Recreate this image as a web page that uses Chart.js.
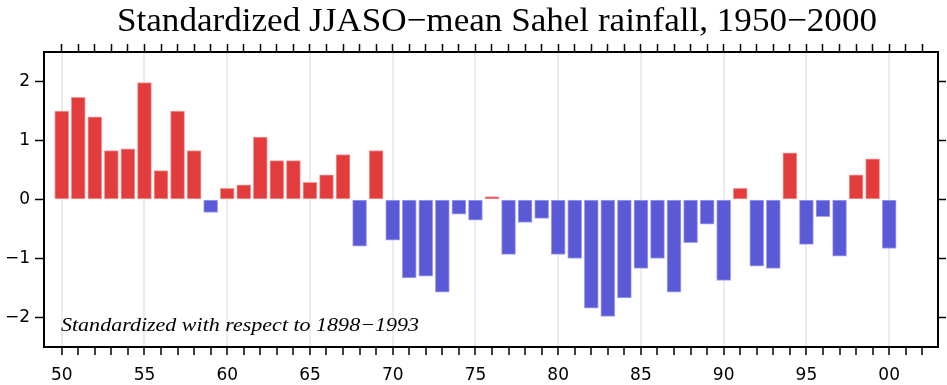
<!DOCTYPE html>
<html>
<head>
<meta charset="utf-8">
<script src="https://cdn.jsdelivr.net/npm/chart.js@4.4.1/dist/chart.umd.min.js"></script>
<style>
html,body{margin:0;padding:0;background:#fff;}
#wrap{width:947px;height:385px;position:relative;}
</style>
</head>
<body>
<div id="wrap"><canvas id="c" width="947" height="385"></canvas></div>
<script>
const titleText = "Standardized JJASO\u2212mean Sahel rainfall, 1950\u22122000";
const noteText = "Standardized with respect to 1898\u22121993";
const years = [1950,1951,1952,1953,1954,1955,1956,1957,1958,1959,
               1960,1961,1962,1963,1964,1965,1966,1967,1968,1969,
               1970,1971,1972,1973,1974,1975,1976,1977,1978,1979,
               1980,1981,1982,1983,1984,1985,1986,1987,1988,1989,
               1990,1991,1992,1993,1994,1995,1996,1997,1998,1999,2000];
const rainfall = [1.50,1.73,1.40,0.83,0.86,1.98,0.49,1.50,0.83,-0.22,
                  0.19,0.25,1.06,0.66,0.66,0.29,0.42,0.76,-0.79,0.83,
                  -0.69,-1.33,-1.30,-1.57,-0.25,-0.35,0.05,-0.93,-0.39,-0.32,
                  -0.93,-1.00,-1.84,-1.98,-1.67,-1.17,-1.00,-1.57,-0.73,-0.42,
                  -1.37,0.19,-1.13,-1.17,0.79,-0.76,-0.29,-0.96,0.42,0.69,-0.83];
const yTicks = [-2,-1,0,1,2];
const xLabelStep = 5;

const RED = '#e23c3c', RED_B = '#f59a9a';
const BLUE = '#5a5ad6', BLUE_B = '#a4a4f2';

// x in 2-digit year units (50 .. 100)
const points = years.map((y,i)=>({x: y-1900, y: rainfall[i]}));

const yearTicks = [];
for (let v = 50; v <= 102; v++) yearTicks.push({value: v});

function fitText(ctx, text, x, y, width){
  const w = ctx.measureText(text).width;
  ctx.save();
  ctx.translate(x, y);
  ctx.scale(width / w, 1);
  ctx.fillText(text, 0, 0);
  ctx.restore();
}

const textPlugin = {
  id: 'texts',
  afterDraw(chart){
    const ctx = chart.ctx;
    ctx.save();
    ctx.fillStyle = '#000';
    ctx.textBaseline = 'alphabetic';
    ctx.textAlign = 'left';
    ctx.font = '34px "Liberation Serif"';
    fitText(ctx, titleText, 117, 31, 760);
    ctx.font = 'italic 19px "Liberation Serif"';
    fitText(ctx, noteText, 61, 331, 358);
    ctx.restore();
  }
};

const fontTick = {family: '"DejaVu Sans"', size: 17};

new Chart(document.getElementById('c'), {
  type: 'bar',
  data: {
    datasets: [{
      data: points,
      backgroundColor: c => (c.raw && c.raw.y < 0) ? BLUE : RED,
      borderColor: c => (c.raw && c.raw.y < 0) ? BLUE_B : RED_B,
      borderWidth: 1,
      borderSkipped: false,
      barThickness: 14,
      xAxisID: 'x',
      yAxisID: 'y'
    }]
  },
  options: {
    responsive: false,
    animation: false,
    events: [],
    layout: {padding: 0},
    plugins: {legend: {display: false}, title: {display: false}, tooltip: {enabled: false}},
    scales: {
      x: {
        type: 'linear', position: 'bottom', min: 48.93, max: 102.95, offset: false,
        afterBuildTicks: s => { s.ticks = yearTicks.map(t=>({value:t.value})); },
        afterFit: s => { s.height = 38; },
        ticks: {
          autoSkip: false, maxRotation: 0, color: '#000', font: fontTick, padding: 10,
          callback: v => (v % xLabelStep === 0 && v <= 100) ? String(v % 100).padStart(2,'0') : ''
        },
        grid: {
          offset: false,
          drawOnChartArea: true,
          color: c => (c.tick && c.tick.value % xLabelStep === 0 && c.tick.value <= 100) ? '#ececec' : 'rgba(0,0,0,0)',
          lineWidth: 2,
          tickColor: '#000', tickLength: 8, tickWidth: 1.5
        },
        border: {display: true, color: '#000', width: 2}
      },
      x2: {
        type: 'linear', position: 'top', min: 48.93, max: 102.95, offset: false,
        afterBuildTicks: s => { s.ticks = yearTicks.map(t=>({value:t.value})); },
        afterFit: s => { s.height = 52; },
        ticks: {display: true, autoSkip: false, callback: () => '', padding: 0},
        grid: {offset: false, drawOnChartArea: false, tickColor: '#000', tickLength: 8, tickWidth: 1.5},
        border: {display: true, color: '#000', width: 2}
      },
      y: {
        type: 'linear', position: 'left', min: -2.5, max: 2.5,
        afterBuildTicks: s => { s.ticks = yTicks.map(v=>({value:v})); },
        afterFit: s => { s.width = 44; },
        ticks: {color: '#000', font: fontTick, padding: 5,
          callback: v => (v < 0 ? '\u2212' + Math.abs(v) : String(v))},
        grid: {drawOnChartArea: false, tickColor: '#000', tickLength: 9, tickWidth: 1.5},
        border: {display: true, color: '#000', width: 2}
      },
      y2: {
        type: 'linear', position: 'right', min: -2.5, max: 2.5,
        afterBuildTicks: s => { s.ticks = yTicks.map(v=>({value:v})); },
        afterFit: s => { s.width = 9; },
        ticks: {display: true, callback: () => '', padding: 0},
        grid: {drawOnChartArea: false, tickColor: '#000', tickLength: 8, tickWidth: 1.5},
        border: {display: true, color: '#000', width: 2}
      }
    }
  },
  plugins: [textPlugin]
});
</script>
</body>
</html>
